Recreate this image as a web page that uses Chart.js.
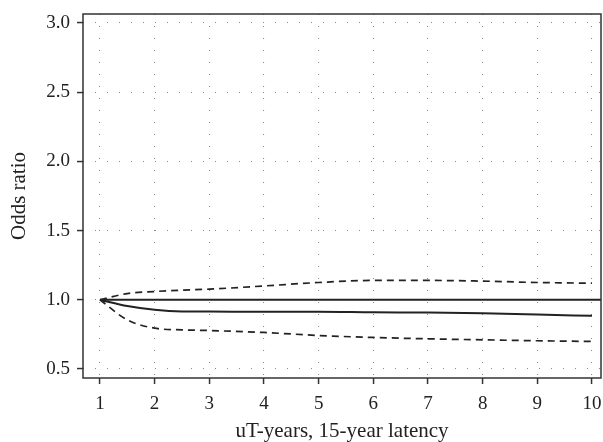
<!DOCTYPE html>
<html lang="en">
<head>
    <meta charset="UTF-8">
    <title>Odds ratio by uT-years</title>
    <script src="https://cdn.jsdelivr.net/npm/chart.js"></script>
    <style>
        html, body { margin: 0; padding: 0; background: #fff; }
        .chart-box { width: 603px; height: 442px; }
    </style>
</head>
<body>
    <div class="chart-box"><canvas id="orChart" width="603" height="442"></canvas></div>

    <script>
        // values
        const xValues = [1, 1.5, 2, 2.5, 3, 4, 5, 6, 7, 8, 9, 10];
        const oddsRatio = [1.0, 0.955, 0.928, 0.916, 0.915, 0.914, 0.914, 0.91, 0.908, 0.903, 0.894, 0.884];
        const upperCI = [1.0, 1.045, 1.06, 1.07, 1.077, 1.10, 1.125, 1.14, 1.14, 1.135, 1.125, 1.12];
        const lowerCI = [1.0, 0.855, 0.795, 0.783, 0.778, 0.764, 0.742, 0.728, 0.718, 0.711, 0.704, 0.699];
        const refX = [1, 10.5];
        const refY = [1, 1];
        const xTicks = [1, 2, 3, 4, 5, 6, 7, 8, 9, 10];
        const yTicks = [0.5, 1.0, 1.5, 2.0, 2.5, 3.0];

        const toPoints = (xs, ys) => xs.map((x, i) => ({ x: x, y: ys[i] }));
        const serif = "'Liberation Serif', 'DejaVu Serif', serif";

        // frame round the plot area
        const boxPlugin = {
            id: 'box',
            afterDraw(chart) {
                const a = chart.chartArea;
                const ctx = chart.ctx;
                ctx.save();
                ctx.strokeStyle = '#333';
                ctx.lineWidth = 1.5;
                ctx.strokeRect(a.left, a.top, a.right - a.left, a.bottom - a.top);
                ctx.restore();
            }
        };

        const line = (data, dash, width) => ({
            data: data,
            borderColor: '#222',
            borderWidth: width,
            borderDash: dash,
            pointRadius: 0,
            fill: false,
            cubicInterpolationMode: 'monotone'
        });

        new Chart(document.getElementById('orChart'), {
            type: 'line',
            data: {
                datasets: [
                    line(toPoints(refX, refY), [], 2),
                    line(toPoints(xValues, oddsRatio), [], 2),
                    line(toPoints(xValues, upperCI), [7, 5], 1.7),
                    line(toPoints(xValues, lowerCI), [7, 5], 1.7)
                ]
            },
            plugins: [boxPlugin],
            options: {
                responsive: false,
                animation: false,
                maintainAspectRatio: false,
                layout: { padding: { top: 14, right: 2, left: 0, bottom: 0 } },
                plugins: {
                    legend: { display: false },
                    tooltip: { enabled: false }
                },
                scales: {
                    x: {
                        type: 'linear',
                        min: 0.69,
                        max: 10.165,
                        afterBuildTicks: axis => { axis.ticks = xTicks.map(v => ({ value: v })); },
                        afterFit: axis => {
                            axis.height = 64;
                            axis.paddingLeft = 0;
                            axis.paddingRight = 0;
                        },
                        ticks: {
                            color: '#222',
                            font: { family: serif, size: 19 },
                            padding: 9,
                            maxRotation: 0
                        },
                        grid: {
                            color: '#8a8a8a',
                            lineWidth: 1.1,
                            tickLength: 6,
                            tickColor: '#333',
                            tickWidth: 1.5
                        },
                        border: { display: false, dash: [1, 11] },
                        title: {
                            display: true,
                            text: 'uT-years, 15-year latency',
                            color: '#222',
                            font: { family: serif, size: 21, lineHeight: 1 },
                            padding: { top: 0, bottom: 0 }
                        }
                    },
                    y: {
                        type: 'linear',
                        min: 0.435,
                        max: 3.065,
                        afterBuildTicks: axis => { axis.ticks = yTicks.map(v => ({ value: v })); },
                        afterFit: axis => {
                            axis.width = 83;
                            axis.paddingTop = 0;
                            axis.paddingBottom = 0;
                        },
                        ticks: {
                            color: '#222',
                            font: { family: serif, size: 19 },
                            padding: 7,
                            callback: v => v.toFixed(1)
                        },
                        grid: {
                            color: '#8a8a8a',
                            lineWidth: 1.1,
                            tickLength: 6,
                            tickColor: '#333',
                            tickWidth: 1.5
                        },
                        border: { display: false, dash: [1, 11] },
                        title: {
                            display: true,
                            text: 'Odds ratio',
                            color: '#222',
                            font: { family: serif, size: 21, lineHeight: 1 },
                            padding: { top: 9, bottom: 0 }
                        }
                    }
                }
            }
        });
    </script>
</body>
</html>
